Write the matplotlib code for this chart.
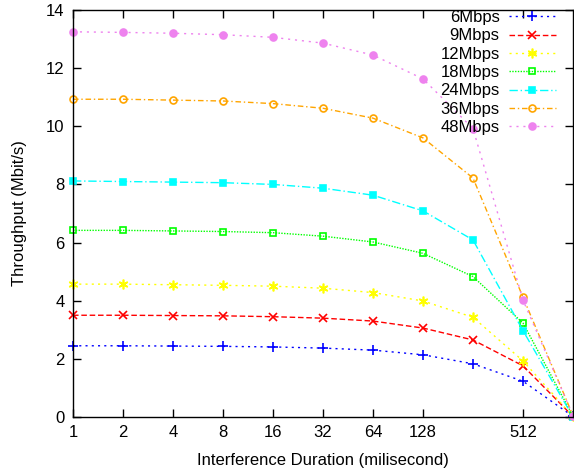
import matplotlib
matplotlib.use("Agg")
import matplotlib.pyplot as plt
from matplotlib.ticker import FixedLocator, NullLocator

plt.rcParams['font.family'] = ['Liberation Sans', 'DejaVu Sans']

durations = [1, 2, 4, 8, 16, 32, 64, 128, 256, 512, 1024]
tick_vals = [1, 2, 4, 8, 16, 32, 64, 128, 512]
tick_labels = ['1', '2', '4', '8', '16', '32', '64', '128', '512']

labels = ['6Mbps', '9Mbps', '12Mbps', '18Mbps', '24Mbps', '36Mbps', '48Mbps']
tp_6 = [2.45, 2.45, 2.44, 2.43, 2.41, 2.37, 2.30, 2.14, 1.83, 1.23, 0.02]
tp_9 = [3.50, 3.50, 3.49, 3.48, 3.45, 3.40, 3.30, 3.06, 2.65, 1.76, 0.02]
tp_12 = [4.57, 4.57, 4.55, 4.53, 4.50, 4.43, 4.28, 3.99, 3.43, 1.93, 0.02]
tp_18 = [6.42, 6.42, 6.40, 6.38, 6.34, 6.22, 6.02, 5.63, 4.83, 3.23, 0.03]
tp_24 = [8.12, 8.10, 8.08, 8.06, 8.00, 7.87, 7.63, 7.09, 6.09, 2.97, 0.0]
tp_36 = [10.93, 10.93, 10.90, 10.87, 10.78, 10.62, 10.28, 9.60, 8.22, 4.12, 0.05]
tp_48 = [13.25, 13.23, 13.20, 13.15, 13.06, 12.86, 12.45, 11.63, 9.92, 4.02, 0.05]
series = [tp_6, tp_9, tp_12, tp_18, tp_24, tp_36, tp_48]

colors = ['#0000ff', '#ff0000', '#ffff00', '#00ff00', '#00ffff', '#ffa500', '#ee82ee']
markers = ['+', 'x', (6, 2, 0), 's', 's', 'o', 'o']
fills = ['full', 'full', 'full', 'none', 'full', 'none', 'full']
dashes = [(1.5, 3), (4, 2), (1.5, 3), (1, 1), (6, 2, 1, 2), (4, 2, 1, 2), (1.5, 3.5)]
msizes = [6.5, 6, 7, 5, 5, 5, 5]

fig = plt.figure(figsize=(5.74, 4.75), dpi=100)
ax = fig.add_axes([73/574, 58/475, 500/574, 407/475])

for y, lab, c, m, f, d, ms in zip(series, labels, colors, markers, fills, dashes, msizes):
    ax.plot(durations, y, color=c, marker=m, fillstyle=f, markersize=ms,
            markeredgewidth=1.2, linewidth=1.0, dashes=d, label=lab,
            clip_on=False)

ax.set_xscale('log', base=2)
ax.set_xlim(1, 1024)
ax.set_ylim(0, 14)
ax.xaxis.set_major_locator(FixedLocator(tick_vals))
ax.set_xticklabels(tick_labels)
ax.xaxis.set_minor_locator(NullLocator())
ax.set_yticks(range(0, 15, 2))

ax.tick_params(direction='in', length=5.5, width=1, top=True, right=True,
               labelsize=12, pad=6)
for s in ax.spines.values():
    s.set_linewidth(1.0)

ax.set_xlabel('Interference Duration (milisecond)', fontsize=12, labelpad=9)
ax.set_ylabel('Throughput (Mbit/s)', fontsize=12, labelpad=14)

ax.legend(loc='upper right', bbox_to_anchor=(0.965, 1.0), markerfirst=False,
          frameon=False, fontsize=12, handlelength=2.8, labelspacing=0.2,
          handletextpad=0.55, borderaxespad=0.0, borderpad=0.0)

fig.savefig('out.png', dpi=100)
